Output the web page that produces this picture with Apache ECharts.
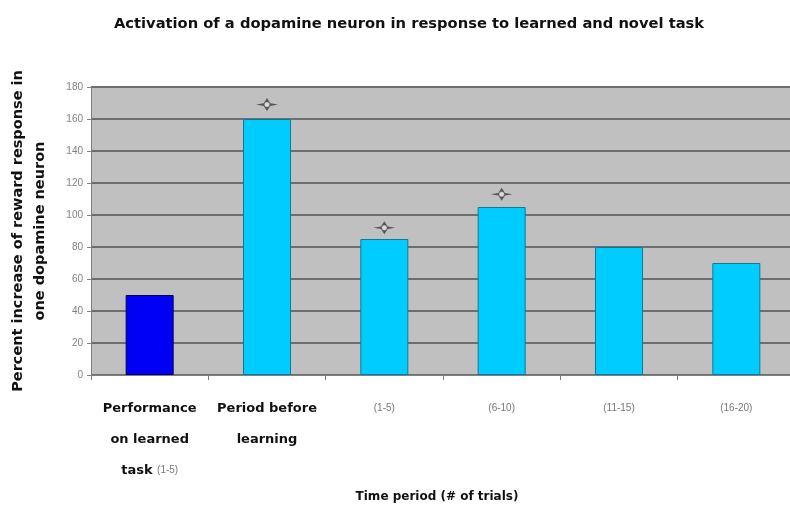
<!DOCTYPE html>
<html><head><meta charset="utf-8">
<script src="https://cdn.jsdelivr.net/npm/echarts@6/dist/echarts.min.js"></script>
<style>html,body{margin:0;padding:0;background:#fff}#c{width:790px;height:513px}</style>
</head><body><div id="c"></div>
<script>
const categories = ['Performance\non learned\ntask (1-5)', 'Period before\nlearning', '(1-5)', '(6-10)', '(11-15)', '(16-20)'];
const values = [50, 160, 85, 105, 80, 70];
const markerValues = [null, 169, 92, 113, null, null];
const yTicks = [0, 20, 40, 60, 80, 100, 120, 140, 160, 180];

const chart = echarts.init(document.getElementById('c'));
const starPath = 'path://M0,5 L7,4 L10,0 L13,4 L20,5 L13,6 L10,10 L7,6 Z';
chart.setOption({
  animation: false,
  title: {
    text: 'Activation of a dopamine neuron in response to learned and novel task',
    left: 404, top: 12, textAlign: 'center',
    textStyle: {fontFamily: 'DejaVu Sans', fontWeight: 'bold', fontSize: 14.7, color: '#111'}
  },
  grid: {left: 91, top: 87, width: 704, height: 288, outerBoundsMode: 'none', containLabel: false},
  xAxis: {
    type: 'category', data: categories,
    name: 'Time period (# of trials)', nameLocation: 'middle', nameGap: 113,
    nameTextStyle: {fontFamily: 'DejaVu Sans', fontWeight: 'bold', fontSize: 12, color: '#111', padding: [0, 12, 0, 0]},
    axisLine: {lineStyle: {color: '#808080', width: 1}},
    axisTick: {show: true, length: 5, lineStyle: {color: '#808080'}},
    axisLabel: {
      margin: 18, interval: 0, lineHeight: 31,
      fontFamily: 'DejaVu Sans', fontWeight: 'bold', fontSize: 13, color: '#111',
      formatter: v => v.split('\n').map(l => l.replace(/^(.*?)\s*\((\d+-\d+)\)$/, (m, a, b) => (a ? a + ' ' : '') + '{g|(' + b + ')}')).join('\n'),
      rich: {g: {fontFamily: 'Liberation Sans', fontWeight: 'normal', fontSize: 10, color: '#777', lineHeight: 31}}
    }
  },
  yAxis: {
    type: 'value', min: 0, max: 180, interval: 20,
    name: 'Percent increase of reward response in\none dopamine neuron',
    nameLocation: 'middle', nameGap: 40, nameRotate: 90,
    nameTextStyle: {fontFamily: 'DejaVu Sans', fontWeight: 'bold', fontSize: 14.5, color: '#111', lineHeight: 22},
    axisLine: {show: true, lineStyle: {color: '#808080'}},
    axisTick: {show: true, length: 4, lineStyle: {color: '#808080'}},
    axisLabel: {fontFamily: 'Liberation Sans', fontSize: 10, color: '#808080', margin: 8,
      formatter: v => yTicks.includes(v) ? String(v) : ''},
    splitLine: {lineStyle: {color: '#6e6e6e', width: 2}},
    splitArea: {show: true, areaStyle: {color: ['#c0c0c0', '#c0c0c0']}}
  },
  series: [
    {
      type: 'bar', barWidth: 48,
      data: values.map((v, i) => ({value: v, itemStyle: i === 0 ? {color: '#0000f5', borderColor: '#00005a', borderWidth: 1} : {color: '#00ccff', borderColor: '#107a96', borderWidth: 1}}))
    },
    {
      type: 'scatter', data: markerValues, symbol: starPath, symbolSize: [22, 13],
      itemStyle: {color: '#4a4a4a', opacity: 0.9}, z: 5
    },
    {
      type: 'scatter', data: markerValues, symbol: 'circle', symbolSize: 5,
      itemStyle: {color: '#fff', borderColor: '#888', borderWidth: 0.5}, z: 6
    }
  ]
});
</script></body></html>
